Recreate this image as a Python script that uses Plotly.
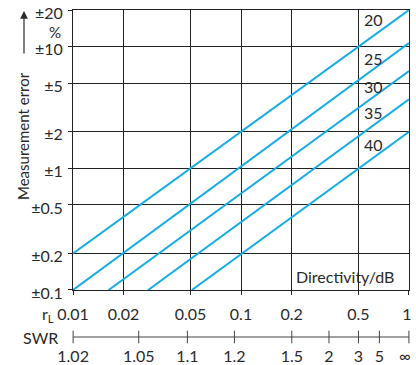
import plotly.graph_objects as go

# directivity lines: start and end points
directivity = [20, 25, 30, 35, 40]
x_start = [0.01, 0.01, 0.0163, 0.028, 0.051]
y_start = [0.2, 0.1, 0.1, 0.1, 0.1]
x_end = [1, 1, 1, 1, 1]
y_end = [20, 10.7, 6.3, 3.7, 2.0]

# axis ticks
x_ticks = [0.01, 0.02, 0.05, 0.1, 0.2, 0.5, 1]
x_ticktext = ["0.01", "0.02", "0.05", "0.1", "0.2", "0.5", "1\u00a0"]
y_ticks = [0.1, 0.2, 0.5, 1, 2, 5, 10, 20]
y_ticktext = ["±0.1", "±0.2", "±0.5", "±1", "±2", "±5", "±10", "±20"]

# SWR scale below the r_L axis
swr_values = [1.02, 1.05, 1.1, 1.2, 1.5, 2, 3, 5, None]
swr_labels = ["1.02", "1.05", "1.1", "1.2", "1.5", "2", "3", "5", "∞\u00a0\u00a0"]
swr_pos = [1.0 if s is None else (s - 1) / (s + 1) for s in swr_values]

FONT = "Lato"
INK = "#2a2a2a"
BLUE = "#14ace6"

fig = go.Figure()

for d, x0, y0, x1, y1 in zip(directivity, x_start, y_start, x_end, y_end):
    fig.add_trace(go.Scatter(
        x=[x0, x1], y=[y0, y1], mode="lines", name=f"{d} dB",
        line=dict(color=BLUE, width=2), hoverinfo="skip",
    ))

# SWR axis line with tick marks
fig.add_trace(go.Scatter(
    x=swr_pos, y=[0] * len(swr_pos), xaxis="x2", yaxis="y2",
    mode="lines+markers", cliponaxis=False,
    line=dict(color="#444444", width=1),
    marker=dict(symbol="line-ns", size=9, line=dict(width=1, color="#444444")),
    hoverinfo="skip",
))

main_bottom = 55 / 335

fig.update_layout(
    width=416, height=365,
    margin=dict(l=73, r=7, t=10, b=20, autoexpand=False),
    paper_bgcolor="white", plot_bgcolor="white",
    showlegend=False,
    font=dict(family=FONT, size=16, color=INK),
    xaxis=dict(
        type="log", range=[-2.0002, 0.0002], tickvals=x_ticks, ticktext=x_ticktext,
        showgrid=True, gridcolor="#222222", gridwidth=1,
        showline=True, linecolor="#222222", linewidth=1, mirror=True,
        ticks="outside", ticklen=4, tickcolor="#222222", ticklabelstandoff=6,
        ticklabeloverflow="allow",
        zeroline=False, anchor="y", automargin=False,
    ),
    yaxis=dict(
        type="log", range=[-1.0002, 1.3013], tickvals=y_ticks, ticktext=y_ticktext,
        domain=[main_bottom, 1],
        showgrid=True, gridcolor="#222222", gridwidth=1,
        showline=True, linecolor="#222222", linewidth=1, mirror=True,
        ticks="outside", ticklen=4, tickcolor="#222222", ticklabelstandoff=2,
        ticklabelshift=3, ticklabeloverflow="allow",
        zeroline=False, automargin=False,
    ),
    xaxis2=dict(
        type="log", range=[-2.005, 0.0005], tickvals=swr_pos, ticktext=swr_labels,
        anchor="y2", showgrid=False, showline=False, zeroline=False, ticks="",
        ticklabeloverflow="allow", automargin=False,
    ),
    yaxis2=dict(
        domain=[0, 16 / 335], range=[-1, 1], visible=False,
    ),
)

annotations = [
    dict(text="%", x=(63 - 73) / 336, y=(345 - 32) / 335, xanchor="right", yanchor="middle",
         font=dict(size=15)),
    dict(text="r<sub>L</sub>", x=(56 - 73) / 336, y=(345 - 314) / 335, xanchor="right", yanchor="middle"),
    dict(text="SWR", x=(60 - 73) / 336, y=(345 - 337) / 335, xanchor="right", yanchor="middle"),
    dict(text="Measurement error", x=(23 - 73) / 336, y=(345 - 136) / 335, textangle=-90,
         xanchor="center", yanchor="middle", font=dict(size=15)),
    dict(text="Directivity/dB", x=(396 - 73) / 336, y=(345 - 276) / 335, xanchor="right", yanchor="middle"),
]
label_y = [20, 58, 86, 113, 144]
for d, py in zip(directivity, label_y):
    annotations.append(dict(text=str(d), x=(362 - 73) / 336, y=(345 - py) / 335,
                            xanchor="left", yanchor="middle"))
for a in annotations:
    a.update(xref="paper", yref="paper", showarrow=False)

# upward arrow next to the y title
annotations.append(dict(
    text="", xref="paper", yref="paper", x=(24 - 73) / 336, y=(345 - 11) / 335,
    showarrow=True, ax=0, ay=44, arrowhead=2, arrowsize=1.3, arrowwidth=1.2,
    arrowcolor=INK,
))
fig.update_layout(annotations=annotations)

# drop the default page margin so the figure sits at the window's corner
fig.write_html("out.html", config={"displayModeBar": False},
               post_script="document.body.style.margin='0px';")
